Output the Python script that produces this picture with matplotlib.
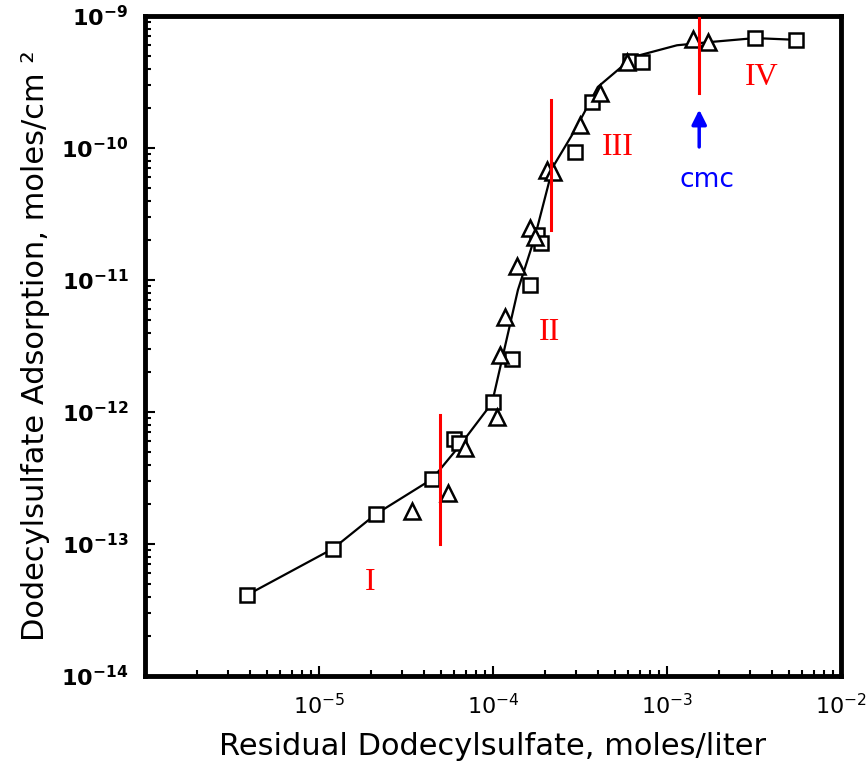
import numpy as np
import matplotlib.pyplot as plt
from matplotlib.ticker import LogLocator, FuncFormatter, NullFormatter

# open squares
sq_conc = [3.85e-6, 1.20e-5, 2.13e-5, 4.46e-5, 6.0e-5, 6.4e-5, 1.0e-4, 1.29e-4,
           1.63e-4, 1.80e-4, 1.88e-4, 2.96e-4, 3.7e-4, 6.1e-4, 7.2e-4, 3.2e-3, 5.5e-3]
sq_ads = [4.1e-14, 9.2e-14, 1.69e-13, 3.1e-13, 6.3e-13, 5.8e-13, 1.19e-12, 2.5e-12,
          9.2e-12, 2.2e-11, 1.9e-11, 9.3e-11, 2.23e-10, 4.6e-10, 4.5e-10, 6.8e-10, 6.6e-10]

# open triangles
tri_conc = [3.42e-5, 5.5e-5, 6.9e-5, 1.05e-4, 1.1e-4, 1.17e-4, 1.37e-4, 1.63e-4,
            1.75e-4, 2.05e-4, 2.2e-4, 3.16e-4, 4.1e-4, 5.9e-4, 1.41e-3, 1.72e-3]
tri_ads = [1.78e-13, 2.43e-13, 5.3e-13, 9.2e-13, 2.7e-12, 5.25e-12, 1.28e-11, 2.48e-11,
           2.1e-11, 6.8e-11, 6.6e-11, 1.49e-10, 2.6e-10, 4.5e-10, 6.7e-10, 6.35e-10]

# hand-drawn curve through the data
curve_conc = [3.85e-6, 1.20e-5, 2.13e-5, 4.46e-5, 6.46e-5, 9.87e-5, 1.22e-4, 1.39e-4,
              1.74e-4, 2.21e-4, 2.96e-4, 4.0e-4, 6.4e-4, 1.14e-3, 1.77e-3, 3.2e-3, 5.5e-3]
curve_ads = [4.1e-14, 9.2e-14, 1.69e-13, 3.1e-13, 5.6e-13, 1.17e-12, 3.96e-12, 8.4e-12,
             2.12e-11, 7.2e-11, 1.37e-10, 2.9e-10, 4.9e-10, 6.0e-10, 6.35e-10, 6.8e-10, 6.6e-10]

# region boundaries
bound_x = [4.95e-5, 2.15e-4, 1.53e-3]
bound_lo = [1.0e-13, 2.4e-11, 2.6e-10]
bound_hi = [9.5e-13, 2.3e-10, 9.6e-10]

regions = ["I", "II", "III", "IV"]
region_x = [1.96e-5, 2.10e-4, 5.2e-4, 3.5e-3]
region_y = [5.15e-14, 4.0e-12, 1.0e-10, 3.4e-10]

cmc_x = 1.53e-3
cmc_arrow = [9.7e-11, 2.05e-10]
cmc_text_y = 5.7e-11

xticks = [1e-5, 1e-4, 1e-3, 1e-2]
yticks = [1e-14, 1e-13, 1e-12, 1e-11, 1e-10, 1e-9]

fig = plt.figure(figsize=(8.68, 7.80), dpi=100)
ax = fig.add_axes([0.167, 0.1333, 0.802, 0.8462])

ax.plot(curve_conc, curve_ads, color="black", lw=1.6, zorder=2)
ax.plot(sq_conc, sq_ads, ls="none", marker="s", ms=10, mfc="white", mec="black", mew=1.8, zorder=3)
ax.plot(tri_conc, tri_ads, ls="none", marker="^", ms=11, mfc="white", mec="black", mew=1.8, zorder=3)

ax.set_xscale("log")
ax.set_yscale("log")
ax.set_xlim(1e-6, 1e-2)
ax.set_ylim(1e-14, 1e-9)

for x, lo, hi in zip(bound_x, bound_lo, bound_hi):
    ax.plot([x, x], [lo, hi], color="red", lw=2.2, zorder=4)

for lab, x, y in zip(regions, region_x, region_y):
    ax.text(x, y, lab, color="red", fontsize=23, family="Liberation Serif", ha="center", va="center")

ax.annotate("", xy=(cmc_x, cmc_arrow[1]), xytext=(cmc_x, cmc_arrow[0]),
            arrowprops=dict(arrowstyle="-|>", color="blue", lw=2.5, mutation_scale=22))
ax.text(1.70e-3, cmc_text_y, "cmc", color="blue", fontsize=19, ha="center", va="center")

for side in ["left", "bottom", "top", "right"]:
    ax.spines[side].set_linewidth(3.5)

ax.set_xticks(xticks)
ax.set_yticks(yticks)
ax.xaxis.set_minor_locator(LogLocator(base=10, subs=np.arange(2, 10)))
ax.yaxis.set_minor_locator(LogLocator(base=10, subs=np.arange(2, 10), numticks=20))
ax.xaxis.set_minor_formatter(NullFormatter())
ax.yaxis.set_minor_formatter(NullFormatter())
ax.xaxis.set_major_formatter(FuncFormatter(lambda v, p: r"$10^{%d}$" % round(np.log10(v))))
ax.yaxis.set_major_formatter(FuncFormatter(lambda v, p: r"$\mathbf{10}^{\mathbf{%d}}$" % round(np.log10(v))))

ax.tick_params(which="both", direction="in", top=False, right=False, width=1.5)
ax.tick_params(which="major", length=7)
ax.tick_params(which="minor", length=4.5)
ax.tick_params(axis="x", which="major", labelsize=16, pad=12)
ax.tick_params(axis="y", which="major", labelsize=16, pad=12)

ax.set_xlabel("Residual Dodecylsulfate, moles/liter", fontsize=22, labelpad=10)
ax.set_ylabel("Dodecylsulfate Adsorption, moles/cm ²", fontsize=22, labelpad=8)

fig.savefig("out.png", dpi=100)
